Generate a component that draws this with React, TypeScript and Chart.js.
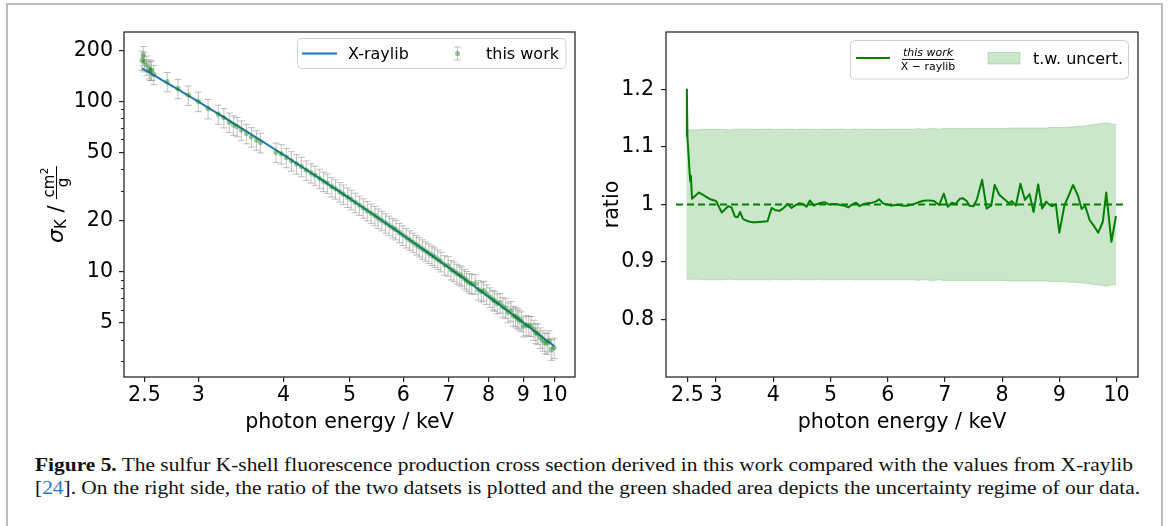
import React, { useEffect, useLayoutEffect, useRef } from 'react';
import { Chart, registerables } from 'chart.js';

Chart.register(...registerables);

// Measured photon energies (keV)
const ENERGY_KEV = [
  2.48, 2.49, 2.50, 2.52, 2.54, 2.55, 2.56, 2.58, 2.70, 2.80,
  2.90, 3.00, 3.10, 3.21, 3.27, 3.33, 3.38, 3.42, 3.47, 3.53,
  3.59, 3.65, 3.70, 3.90, 3.97, 4.04, 4.11, 4.18, 4.25, 4.32,
  4.39, 4.45, 4.52, 4.58, 4.64, 4.71, 4.77, 4.84, 4.90, 4.97,
  5.03, 5.10, 5.17, 5.24, 5.31, 5.38, 5.45, 5.51, 5.58, 5.65,
  5.72, 5.79, 5.85, 5.92, 5.99, 6.06, 6.13, 6.20, 6.27, 6.33,
  6.40, 6.47, 6.54, 6.61, 6.67, 6.74, 6.81, 6.90, 6.98, 7.05,
  7.12, 7.19, 7.26, 7.31, 7.38, 7.43, 7.50, 7.56, 7.65, 7.73,
  7.81, 7.87, 7.95, 8.04, 8.12, 8.17, 8.24, 8.32, 8.40, 8.48,
  8.55, 8.63, 8.70, 8.77, 8.82, 8.87, 8.94, 9.00, 9.09, 9.17,
  9.24, 9.33, 9.39, 9.45, 9.53, 9.61, 9.68, 9.76, 9.82, 9.91, 9.99,
];

// X-raylib K-shell fluorescence production cross section (cm^2/g) at those energies
const XRAYLIB_SIGMA = [
  156.8, 155.4, 154.0, 151.1, 148.4, 147.0, 145.7, 143.1, 128.6, 117.9,
  108.4, 99.9, 92.3, 84.7, 81.0, 77.4, 74.6, 72.4, 69.9, 66.9,
  64.1, 61.5, 59.4, 52.0, 49.7, 47.5, 45.4, 43.4, 41.6, 39.9,
  38.2, 36.9, 35.4, 34.2, 33.0, 31.7, 30.7, 29.5, 28.5, 27.5,
  26.6, 25.6, 24.7, 23.8, 23.0, 22.15, 21.38, 20.75, 20.04, 19.36,
  18.71, 18.09, 17.57, 17.0, 16.45, 15.92, 15.42, 14.93, 14.47, 14.08,
  13.65, 13.24, 12.84, 12.46, 12.14, 11.78, 11.44, 11.01, 10.65, 10.35,
  10.06, 9.78, 9.51, 9.32, 9.07, 8.89, 8.65, 8.45, 8.16, 7.92,
  7.68, 7.51, 7.29, 7.05, 6.85, 6.72, 6.55, 6.37, 6.19, 6.02,
  5.87, 5.71, 5.57, 5.44, 5.35, 5.26, 5.13, 5.03, 4.88, 4.75,
  4.65, 4.51, 4.42, 4.34, 4.23, 4.12, 4.03, 3.93, 3.86, 3.75, 3.66,
];

// this work / X-raylib
const RATIO = [
  1.118, 1.200, 1.116, 1.085, 1.052, 1.040, 1.050, 1.010, 1.021, 1.015,
  1.009, 1.006, 0.986, 0.997, 0.995, 0.979, 0.978, 0.987, 0.975, 0.972,
  0.970, 0.969, 0.969, 0.971, 0.994, 0.990, 0.989, 0.994, 1.001, 0.994,
  0.999, 1.002, 1.001, 0.996, 1.007, 0.998, 1.001, 1.003, 1.004, 1.000,
  1.001, 1.001, 0.999, 0.998, 0.995, 1.000, 1.003, 0.997, 1.001, 1.002,
  1.003, 1.005, 1.009, 1.002, 1.000, 0.998, 0.999, 0.999, 0.998, 0.998,
  0.999, 1.001, 1.004, 1.006, 1.007, 1.007, 1.006, 0.999, 1.019, 0.996,
  1.003, 1.001, 1.010, 1.011, 1.006, 0.998, 0.997, 1.009, 1.043, 0.993,
  0.998, 1.034, 1.017, 1.009, 1.002, 1.006, 0.998, 1.036, 1.008, 1.018,
  0.987, 1.035, 0.993, 1.005, 1.000, 0.997, 1.000, 0.951, 0.999, 1.017,
  1.034, 1.014, 0.992, 0.998, 0.973, 0.962, 0.951, 0.970, 1.021, 0.935, 0.980,
];

// Relative uncertainty of this work
const REL_UNCERT = [
  0.130, 0.130, 0.130, 0.130, 0.130, 0.130, 0.130, 0.130, 0.130, 0.131,
  0.131, 0.131, 0.131, 0.130, 0.130, 0.131, 0.131, 0.131, 0.131, 0.131,
  0.131, 0.131, 0.131, 0.131, 0.131, 0.130, 0.131, 0.131, 0.131, 0.131,
  0.130, 0.131, 0.131, 0.131, 0.131, 0.131, 0.130, 0.131, 0.131, 0.131,
  0.131, 0.131, 0.131, 0.131, 0.130, 0.131, 0.131, 0.131, 0.131, 0.131,
  0.131, 0.131, 0.131, 0.131, 0.131, 0.131, 0.131, 0.131, 0.131, 0.131,
  0.131, 0.131, 0.132, 0.131, 0.131, 0.132, 0.132, 0.131, 0.132, 0.132,
  0.132, 0.132, 0.132, 0.132, 0.132, 0.132, 0.132, 0.132, 0.132, 0.132,
  0.132, 0.132, 0.132, 0.132, 0.133, 0.133, 0.133, 0.133, 0.133, 0.133,
  0.133, 0.133, 0.133, 0.133, 0.134, 0.134, 0.134, 0.134, 0.134, 0.135,
  0.135, 0.136, 0.136, 0.137, 0.138, 0.139, 0.140, 0.141, 0.142, 0.140, 0.139,
];

const ENERGY_TICKS = [2.5, 3, 4, 5, 6, 7, 8, 9, 10];
const ENERGY_TICK_LABELS = ['2.5', '3', '4', '5', '6', '7', '8', '9', '10'];
const SIGMA_TICKS = [5, 10, 20, 50, 100, 200];
const SIGMA_TICK_LABELS = ['5', '10', '20', '50', '100', '200'];
const SIGMA_MINOR_TICKS = [3, 4, 6, 7, 8, 9, 30, 40, 60, 70, 80, 90];
const RATIO_TICKS = [0.8, 0.9, 1, 1.1, 1.2];
const RATIO_TICK_LABELS = ['0.8', '0.9', '1', '1.1', '1.2'];
const UNITY_LINE_E = [2.3, 10.15];
const UNITY_LINE_R = [1, 1];

// this work = ratio x X-raylib
const THIS_WORK_SIGMA = ENERGY_KEV.map((_, i) => RATIO[i] * XRAYLIB_SIGMA[i]);

const FONT = '"DejaVu Sans", sans-serif';
const BLUE = '#1f77b4';
const GREEN = 'rgb(0,128,0)';
const BAND = 'rgba(0,128,0,0.2)';
const ERR_GRAY = 'rgba(128,128,128,0.5)';
const MARKER = 'rgba(0,128,0,0.4)';
const LABEL_SIZE = 20.6;

function drawFrame(chart: any) {
  const { ctx, chartArea: a } = chart;
  ctx.save();
  ctx.strokeStyle = '#2a2a2a';
  ctx.lineWidth = 1.3;
  ctx.strokeRect(a.left, a.top, a.right - a.left, a.bottom - a.top);
  ctx.restore();
}

function drawXTitle(chart: any, baseline: number) {
  const { ctx, chartArea: a } = chart;
  ctx.save();
  ctx.font = `${LABEL_SIZE}px ${FONT}`;
  ctx.fillStyle = '#000';
  ctx.textAlign = 'center';
  ctx.textBaseline = 'alphabetic';
  ctx.fillText('photon energy / keV', (a.left + a.right) / 2, baseline);
  ctx.restore();
}

function legendBox(ctx: CanvasRenderingContext2D, x: number, y: number, w: number, h: number) {
  ctx.save();
  ctx.beginPath();
  (ctx as any).roundRect(x, y, w, h, 4);
  ctx.fillStyle = 'rgba(255,255,255,0.85)';
  ctx.fill();
  ctx.strokeStyle = '#d0d0d0';
  ctx.lineWidth = 1;
  ctx.stroke();
  ctx.restore();
}

function errorBar(ctx: CanvasRenderingContext2D, x: number, yTop: number, yBot: number, cap: number) {
  ctx.beginPath();
  ctx.moveTo(x, yTop);
  ctx.lineTo(x, yBot);
  ctx.moveTo(x - cap, yTop);
  ctx.lineTo(x + cap, yTop);
  ctx.moveTo(x - cap, yBot);
  ctx.lineTo(x + cap, yBot);
  ctx.stroke();
}

// sigma_K / (cm^2 / g), rotated, centred on (baselineX, centerY)
function drawSigmaLabel(ctx: CanvasRenderingContext2D, baselineX: number, centerY: number) {
  const big = `${LABEL_SIZE}px ${FONT}`;
  const bigIt = `italic 22px ${FONT}`;
  const small = `15px ${FONT}`;
  const tiny = `10.5px ${FONT}`;
  ctx.save();
  ctx.translate(baselineX, centerY);
  ctx.rotate(-Math.PI / 2);
  ctx.fillStyle = '#000';
  ctx.textBaseline = 'alphabetic';
  ctx.textAlign = 'left';
  ctx.font = bigIt;
  const wSigma = ctx.measureText('σ').width;
  ctx.font = small;
  const wK = ctx.measureText('K').width;
  const wCm = ctx.measureText('cm').width;
  const wG = ctx.measureText('g').width;
  ctx.font = big;
  const wSp = ctx.measureText(' ').width;
  const wSlash = ctx.measureText('/').width;
  ctx.font = tiny;
  const w2 = ctx.measureText('2').width;
  const wNum = wCm + w2 + 0.5;
  const wFrac = Math.max(wNum, wG) + 3;
  const total = wSigma + wK + 2 * wSp + wSlash + wFrac;
  let x = -total / 2;
  ctx.font = bigIt;
  ctx.fillText('σ', x, 0);
  x += wSigma;
  ctx.font = small;
  ctx.fillText('K', x, 3);
  x += wK + wSp;
  ctx.font = big;
  ctx.fillText('/', x, 0);
  x += wSlash + wSp;
  const barY = -6;
  ctx.fillRect(x, barY - 0.5, wFrac, 1);
  const numX = x + (wFrac - wNum) / 2;
  ctx.font = small;
  ctx.fillText('cm', numX, barY - 3);
  ctx.font = tiny;
  ctx.fillText('2', numX + wCm + 0.5, barY - 8.5);
  ctx.font = small;
  ctx.fillText('g', x + (wFrac - wG) / 2, barY + 11.5);
  ctx.restore();
}

const crossSectionDecor = {
  id: 'crossSectionDecor',
  beforeDatasetsDraw(chart: any) {
    const { ctx, chartArea: a, scales } = chart;
    const xs = scales.x;
    const ys = scales.y;
    ctx.save();
    ctx.beginPath();
    ctx.rect(a.left, a.top, a.right - a.left, a.bottom - a.top);
    ctx.clip();
    ctx.strokeStyle = ERR_GRAY;
    ctx.lineWidth = 1;
    ENERGY_KEV.forEach((e, i) => {
      const s = THIS_WORK_SIGMA[i];
      const u = REL_UNCERT[i];
      const px = xs.getPixelForValue(e);
      errorBar(ctx, px, ys.getPixelForValue(s * (1 + u)), ys.getPixelForValue(s * (1 - u)), 3.5);
    });
    ctx.restore();
  },
  afterDraw(chart: any) {
    const { ctx, chartArea: a, scales } = chart;
    const ys = scales.y;
    drawFrame(chart);
    // minor ticks on the log axis
    ctx.save();
    ctx.strokeStyle = '#222';
    ctx.lineWidth = 1;
    SIGMA_MINOR_TICKS.forEach((v) => {
      if (v < ys.min || v > ys.max) return;
      const py = Math.round(ys.getPixelForValue(v)) + 0.5;
      ctx.beginPath();
      ctx.moveTo(a.left - 3, py);
      ctx.lineTo(a.left, py);
      ctx.stroke();
    });
    ctx.restore();
    drawXTitle(chart, 428);
    drawSigmaLabel(ctx, 62.5, (a.top + a.bottom) / 2);

    // legend
    legendBox(ctx, 297.5, 38.5, 268.5, 30);
    ctx.save();
    ctx.strokeStyle = BLUE;
    ctx.lineWidth = 2;
    ctx.beginPath();
    ctx.moveTo(302, 53.5);
    ctx.lineTo(337, 53.5);
    ctx.stroke();
    ctx.strokeStyle = ERR_GRAY;
    ctx.lineWidth = 1;
    errorBar(ctx, 457.5, 47, 60, 3.5);
    ctx.fillStyle = MARKER;
    ctx.beginPath();
    ctx.arc(457.5, 53.5, 2.6, 0, Math.PI * 2);
    ctx.fill();
    ctx.fillStyle = '#000';
    ctx.font = `16px ${FONT}`;
    ctx.textBaseline = 'alphabetic';
    ctx.fillText('X-raylib', 348, 58.5);
    ctx.fillText('this work', 486, 58.5);
    ctx.restore();
  },
};

const ratioDecor = {
  id: 'ratioDecor',
  afterDraw(chart: any) {
    const { ctx, chartArea: a } = chart;
    drawFrame(chart);
    drawXTitle(chart, 428);
    ctx.save();
    ctx.translate(27.5, (a.top + a.bottom) / 2);
    ctx.rotate(-Math.PI / 2);
    ctx.font = `${LABEL_SIZE}px ${FONT}`;
    ctx.fillStyle = '#000';
    ctx.textAlign = 'center';
    ctx.textBaseline = 'alphabetic';
    ctx.fillText('ratio', 0, 0);
    ctx.restore();

    // legend
    legendBox(ctx, 260.5, 40.5, 278, 38.5);
    ctx.save();
    ctx.strokeStyle = GREEN;
    ctx.lineWidth = 2;
    ctx.beginPath();
    ctx.moveTo(266, 58);
    ctx.lineTo(300, 58);
    ctx.stroke();
    ctx.fillStyle = '#000';
    ctx.textAlign = 'center';
    ctx.textBaseline = 'alphabetic';
    ctx.font = `italic 11px ${FONT}`;
    ctx.fillText('this work', 338, 56);
    ctx.fillRect(312, 59, 52, 0.9);
    ctx.font = `11px ${FONT}`;
    ctx.fillText('X \u2212 raylib', 338, 69.5);
    ctx.fillStyle = BAND;
    ctx.fillRect(398, 52.5, 32, 11.5);
    ctx.strokeStyle = BAND;
    ctx.lineWidth = 1;
    ctx.strokeRect(398, 52.5, 32, 11.5);
    ctx.fillStyle = '#000';
    ctx.textAlign = 'left';
    ctx.font = `16px ${FONT}`;
    ctx.fillText('t.w. uncert.', 443, 64.3);
    ctx.restore();
  },
};

const tickFont = { family: FONT, size: LABEL_SIZE };
const axisGrid = { drawOnChartArea: false, drawTicks: true, tickLength: 5, color: '#222', lineWidth: 1.2 };

function crossSectionConfig(): any {
  return {
    type: 'line',
    data: {
      datasets: [
        {
          label: 'this work',
          data: ENERGY_KEV.map((e, i) => ({ x: e, y: THIS_WORK_SIGMA[i] })),
          showLine: false,
          pointRadius: 2.6,
          pointBackgroundColor: MARKER,
          pointBorderWidth: 0,
          pointBorderColor: 'rgba(0,0,0,0)',
          order: 0,
        },
        {
          label: 'X-raylib',
          data: ENERGY_KEV.map((e, i) => ({ x: e, y: XRAYLIB_SIGMA[i] })),
          borderColor: BLUE,
          borderWidth: 2,
          pointRadius: 0,
          fill: false,
          order: 1,
        },
      ],
    },
    options: {
      responsive: false,
      animation: false,
      devicePixelRatio: 1,
      events: [],
      layout: { padding: { left: 0, top: 32, right: 15, bottom: 0 } },
      plugins: { legend: { display: false }, tooltip: { enabled: false } },
      scales: {
        x: {
          type: 'logarithmic',
          min: 2.333,
          max: 10.72,
          afterBuildTicks: (s: any) => { s.ticks = ENERGY_TICKS.map((v) => ({ value: v })); },
          afterFit: (s: any) => { s.height = 68; },
          ticks: { autoSkip: false, maxRotation: 0, padding: 1, font: tickFont, color: '#000',
            callback: (_v: any, i: number) => ENERGY_TICK_LABELS[i] },
          grid: axisGrid,
          border: { display: false },
        },
        y: {
          type: 'logarithmic',
          min: 2.41,
          max: 256.6,
          afterBuildTicks: (s: any) => { s.ticks = SIGMA_TICKS.map((v) => ({ value: v })); },
          afterFit: (s: any) => { s.width = 124; },
          ticks: { autoSkip: false, padding: 6, font: tickFont, color: '#000',
            callback: (_v: any, i: number) => SIGMA_TICK_LABELS[i] },
          grid: axisGrid,
          border: { display: false },
        },
      },
    },
    plugins: [crossSectionDecor],
  };
}

function ratioConfig(): any {
  return {
    type: 'line',
    data: {
      datasets: [
        {
          label: 'upper',
          data: ENERGY_KEV.map((e, i) => ({ x: e, y: 1 + REL_UNCERT[i] })),
          borderColor: BAND,
          backgroundColor: BAND,
          borderWidth: 1,
          pointRadius: 0,
          fill: '+1',
          order: 3,
        },
        {
          label: 'lower',
          data: ENERGY_KEV.map((e, i) => ({ x: e, y: 1 - REL_UNCERT[i] })),
          borderColor: BAND,
          borderWidth: 1,
          pointRadius: 0,
          fill: false,
          order: 4,
        },
        {
          label: 'unity',
          data: UNITY_LINE_E.map((e, i) => ({ x: e, y: UNITY_LINE_R[i] })),
          borderColor: GREEN,
          borderDash: [7, 4],
          borderWidth: 2,
          pointRadius: 0,
          fill: false,
          order: 1,
        },
        {
          label: 'ratio',
          data: ENERGY_KEV.map((e, i) => ({ x: e, y: RATIO[i] })),
          borderColor: GREEN,
          borderWidth: 2,
          borderJoinStyle: 'round',
          pointRadius: 0,
          fill: false,
          order: 0,
        },
      ],
    },
    options: {
      responsive: false,
      animation: false,
      devicePixelRatio: 1,
      events: [],
      layout: { padding: { left: 0, top: 32, right: 32, bottom: 0 } },
      plugins: { legend: { display: false }, tooltip: { enabled: false } },
      scales: {
        x: {
          type: 'linear',
          min: 2.125,
          max: 10.375,
          afterBuildTicks: (s: any) => { s.ticks = ENERGY_TICKS.map((v) => ({ value: v })); },
          afterFit: (s: any) => { s.height = 68; },
          ticks: { autoSkip: false, maxRotation: 0, padding: 1, font: tickFont, color: '#000',
            callback: (_v: any, i: number) => ENERGY_TICK_LABELS[i] },
          grid: axisGrid,
          border: { display: false },
        },
        y: {
          type: 'linear',
          min: 0.7,
          max: 1.3,
          afterBuildTicks: (s: any) => { s.ticks = RATIO_TICKS.map((v) => ({ value: v })); },
          afterFit: (s: any) => { s.width = 76; },
          ticks: { autoSkip: false, padding: 7, font: tickFont, color: '#000',
            callback: (_v: any, i: number) => RATIO_TICK_LABELS[i] },
          grid: axisGrid,
          border: { display: false },
        },
      },
    },
    plugins: [ratioDecor],
  };
}

function CaptionLine({ top, width, children }: { top: number; width: number; children: React.ReactNode }) {
  const ref = useRef<HTMLDivElement>(null);
  useLayoutEffect(() => {
    const el = ref.current;
    if (!el) return;
    const fit = () => {
      el.style.transform = 'none';
      const w = el.getBoundingClientRect().width;
      if (w > 0) el.style.transform = `scaleX(${width / w})`;
    };
    fit();
    (document as any).fonts?.ready?.then(fit);
  }, [width]);
  return (
    <div
      ref={ref}
      style={{
        position: 'absolute',
        left: 35,
        top,
        whiteSpace: 'nowrap',
        fontFamily: '"Liberation Serif", "Times New Roman", serif',
        fontSize: 19,
        lineHeight: '19px',
        color: '#111',
        transformOrigin: '0 0',
      }}
    >
      {children}
    </div>
  );
}

export default function App() {
  const leftRef = useRef<HTMLCanvasElement>(null);
  const rightRef = useRef<HTMLCanvasElement>(null);

  useEffect(() => {
    const left = new Chart(leftRef.current as HTMLCanvasElement, crossSectionConfig());
    const right = new Chart(rightRef.current as HTMLCanvasElement, ratioConfig());
    return () => {
      left.destroy();
      right.destroy();
    };
  }, []);

  return (
    <div style={{ position: 'fixed', left: 0, top: 0, width: 1170, height: 526, overflow: 'hidden', background: '#fff' }}>
      <div
        style={{
          position: 'absolute',
          left: 6,
          top: 3,
          width: 1157,
          height: 600,
          border: '2px solid #bdbdbd',
          boxSizing: 'border-box',
        }}
      />
      <canvas ref={leftRef} width={590} height={445} style={{ position: 'absolute', left: 0, top: 0 }} />
      <canvas ref={rightRef} width={580} height={445} style={{ position: 'absolute', left: 590, top: 0 }} />
      <CaptionLine top={455} width={1098}>
        <b>Figure 5.</b> The sulfur K-shell fluorescence production cross section derived in this work compared with the values from X-raylib
      </CaptionLine>
      <CaptionLine top={478} width={1105}>
        [<span style={{ color: '#2b7bbf' }}>24</span>]. On the right side, the ratio of the two datsets is plotted and the green shaded area depicts the uncertainty regime of our data.
      </CaptionLine>
    </div>
  );
}
